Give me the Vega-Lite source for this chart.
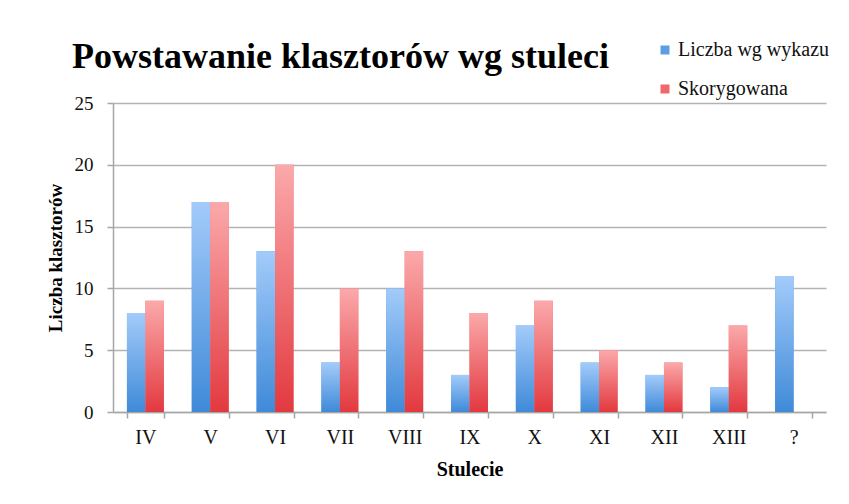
{
  "$schema": "https://vega.github.io/schema/vega-lite/v6.json",
  "autosize": {"type": "none"},
  "width": 713,
  "height": 309,
  "padding": {"left": 113, "top": 103, "right": 23, "bottom": 92},
  "background": "white",
  "title": {
    "text": "Powstawanie klasztorów wg stuleci",
    "anchor": "start",
    "frame": "group",
    "font": "Liberation Serif",
    "fontSize": 36,
    "fontWeight": "bold",
    "color": "#000000",
    "baseline": "alphabetic",
    "dx": -41,
    "dy": 64,
    "offset": 0
  },
  "data": {
    "values": [
      {"stulecie": "IV", "seria": "Liczba wg wykazu", "liczba": 8},
      {"stulecie": "IV", "seria": "Skorygowana", "liczba": 9},
      {"stulecie": "V", "seria": "Liczba wg wykazu", "liczba": 17},
      {"stulecie": "V", "seria": "Skorygowana", "liczba": 17},
      {"stulecie": "VI", "seria": "Liczba wg wykazu", "liczba": 13},
      {"stulecie": "VI", "seria": "Skorygowana", "liczba": 20},
      {"stulecie": "VII", "seria": "Liczba wg wykazu", "liczba": 4},
      {"stulecie": "VII", "seria": "Skorygowana", "liczba": 10},
      {"stulecie": "VIII", "seria": "Liczba wg wykazu", "liczba": 10},
      {"stulecie": "VIII", "seria": "Skorygowana", "liczba": 13},
      {"stulecie": "IX", "seria": "Liczba wg wykazu", "liczba": 3},
      {"stulecie": "IX", "seria": "Skorygowana", "liczba": 8},
      {"stulecie": "X", "seria": "Liczba wg wykazu", "liczba": 7},
      {"stulecie": "X", "seria": "Skorygowana", "liczba": 9},
      {"stulecie": "XI", "seria": "Liczba wg wykazu", "liczba": 4},
      {"stulecie": "XI", "seria": "Skorygowana", "liczba": 5},
      {"stulecie": "XII", "seria": "Liczba wg wykazu", "liczba": 3},
      {"stulecie": "XII", "seria": "Skorygowana", "liczba": 4},
      {"stulecie": "XIII", "seria": "Liczba wg wykazu", "liczba": 2},
      {"stulecie": "XIII", "seria": "Skorygowana", "liczba": 7},
      {"stulecie": "?", "seria": "Liczba wg wykazu", "liczba": 11}
    ]
  },
  "encoding": {
    "x": {
      "field": "stulecie",
      "type": "nominal",
      "sort": ["IV", "V", "VI", "VII", "VIII", "IX", "X", "XI", "XII", "XIII", "?"],
      "scale": {"paddingInner": 0.43, "paddingOuter": 0.215},
      "axis": {
        "title": "Stulecie",
        "labelAngle": 0,
        "tickBand": "extent",
        "tickSize": 6,
        "labelPadding": 9,
        "titlePadding": 12,
        "labelFont": "Liberation Serif",
        "labelFontSize": 20,
        "labelColor": "#111111",
        "titleFont": "Liberation Serif",
        "titleFontSize": 20,
        "titleFontWeight": "bold",
        "titleColor": "#000000",
        "domainColor": "#a6a6a6",
        "domainWidth": 1.5,
        "tickColor": "#a6a6a6",
        "tickWidth": 1.5
      }
    },
    "xOffset": {"field": "seria", "type": "nominal", "sort": ["Liczba wg wykazu", "Skorygowana"]},
    "y": {
      "field": "liczba",
      "type": "quantitative",
      "scale": {"domain": [0, 25]},
      "axis": {
        "title": "Liczba klasztorów",
        "values": [0, 5, 10, 15, 20, 25],
        "tickSize": 6,
        "labelPadding": 14,
        "titlePadding": 9,
        "labelFont": "Liberation Serif",
        "labelFontSize": 19,
        "labelColor": "#111111",
        "titleFont": "Liberation Serif",
        "titleFontSize": 19,
        "titleFontWeight": "bold",
        "titleColor": "#000000",
        "domainColor": "#a6a6a6",
        "domainWidth": 1.5,
        "tickColor": "#a6a6a6",
        "tickWidth": 1.5,
        "grid": true,
        "gridColor": "#b3b3b3",
        "gridWidth": 1.5
      }
    }
  },
  "layer": [
    {
      "mark": {"type": "bar"},
      "encoding": {
        "color": {
          "field": "seria",
          "type": "nominal",
          "scale": {"domain": ["Liczba wg wykazu", "Skorygowana"], "range": ["#5d9de6", "#f2666c"]},
          "legend": {
            "title": null,
            "orient": "none",
            "legendX": 542,
            "legendY": -63,
            "symbolType": "square",
            "symbolSize": 81,
            "symbolStrokeWidth": 0,
            "labelFont": "Liberation Serif",
            "labelFontSize": 20,
            "labelColor": "#111111",
            "labelOffset": 3,
            "rowPadding": 19
          }
        }
      }
    },
    {
      "transform": [{"filter": "datum.seria === 'Liczba wg wykazu'"}],
      "mark": {
        "type": "bar",
        "color": {
          "gradient": "linear", "x1": 0, "y1": 0, "x2": 0, "y2": 1,
          "stops": [{"offset": 0, "color": "#a3cbfa"}, {"offset": 1, "color": "#3f8ad8"}]
        }
      }
    },
    {
      "transform": [{"filter": "datum.seria === 'Skorygowana'"}],
      "mark": {
        "type": "bar",
        "color": {
          "gradient": "linear", "x1": 0, "y1": 0, "x2": 0, "y2": 1,
          "stops": [{"offset": 0, "color": "#fba9ab"}, {"offset": 1, "color": "#e2393f"}]
        }
      }
    }
  ],
  "config": {"view": {"stroke": null}}
}
